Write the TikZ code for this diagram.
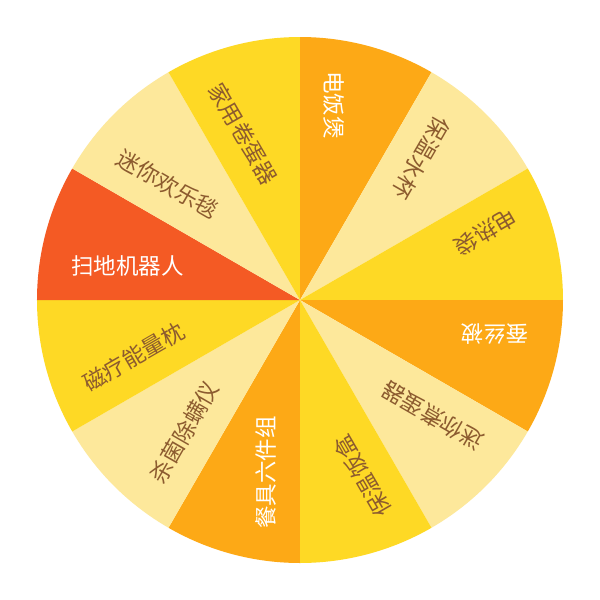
\documentclass[tikz,border=0pt]{standalone}
\usepackage{fontspec}
\newfontfamily\cjk{Noto Sans CJK SC}
\usetikzlibrary{calc}
\definecolor{cOrange}{HTML}{FDA916}
\definecolor{cLight}{HTML}{FDE89B}
\definecolor{cYellow}{HTML}{FED925}
\definecolor{cRed}{HTML}{F45A24}
\definecolor{cBrown}{HTML}{8C5B2F}
\tikzset{
  prize/.style={font=\cjk\fontsize{16pt}{16pt}\selectfont, inner sep=0pt, anchor=west},
}
\begin{document}
\begin{tikzpicture}[x=0.025cm,y=0.025cm]
\useasboundingbox (-300,-300) rectangle (300,300);
\fill[white] (-300,-300) rectangle (300,300);
\foreach \i/\c/\t/\tc in {0/cOrange/电饭煲/white, 1/cLight/保温水杯/cBrown, 2/cYellow/电热袋/cBrown,
  3/cOrange/蚕丝被/white, 4/cLight/迷你煮蛋器/cBrown, 5/cYellow/保温饭盒/cBrown,
  6/cOrange/餐具六件组/white, 7/cLight/杀菌除螨仪/cBrown, 8/cYellow/磁疗能量枕/cBrown,
  9/cRed/扫地机器人/white, 10/cLight/迷你欢乐毯/cBrown, 11/cYellow/家用卷蛋器/cBrown} {
  \pgfmathsetmacro\a{90-30*\i}
  \fill[\c] (0,0) -- (\a:263) arc[start angle=\a, end angle=\a-30, radius=263] -- cycle;
  \node[prize, text=\tc, rotate=\a+180] (p\i) at ($(\a:229)+(\a-90:34)$) {\t};
}
\end{tikzpicture}
\end{document}
